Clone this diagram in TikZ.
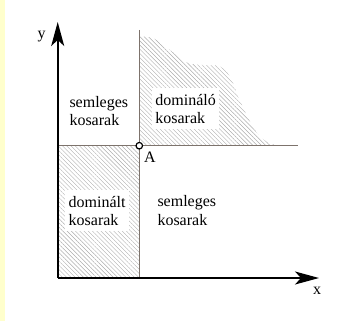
\documentclass[tikz,border=0pt]{standalone}
\usepackage{fontspec}
\setmainfont{Liberation Serif}
\usetikzlibrary{positioning,arrows.meta,patterns.meta}
\definecolor{stripyellow}{RGB}{255,255,204}
\definecolor{divgray}{RGB}{125,115,108}
\tikzset{
  axis/.style={-{Stealth[length=24pt, width=13pt, inset=6pt]}, line width=1.6pt},
  divline/.style={draw=divgray, line width=1.3pt},
  hatch/.style={pattern={Lines[angle=-45, distance=3pt, line width=0.4pt]}, pattern color=gray!65},
  regiontext/.style={font=\fontsize{16}{18.3}\selectfont, align=left, inner sep=0pt, anchor=west},
  whitebox/.style={font=\fontsize{16}{18.3}\selectfont, align=left, fill=white, inner xsep=3.5pt, minimum height=41pt, anchor=north west},
  dot/.style={circle, draw, fill=white, inner sep=0pt, minimum size=6.5pt, line width=1.2pt},
  axlabel/.style={font=\fontsize{16}{18.3}\selectfont, inner sep=0pt}
}

\begin{document}
\begin{tikzpicture}[x=1pt, y=-1pt]
  \useasboundingbox (0,0) rectangle (363,321);
  \fill[stripyellow] (0,0) rectangle (5,321);

  % corner points
  \coordinate (O) at (57.7,278);
  \coordinate (ytip) at (57.7,22);
  \coordinate (xtip) at (319,278);
  \coordinate (Atop) at (139.3,30);
  \coordinate (Abot) at (139.3,278);
  \coordinate (Aleft) at (57.7,145.7);
  \coordinate (Aright) at (297.7,145.7);

  % hatched regions
  \fill[hatch] (Aleft) rectangle (Abot);
  \fill[hatch] (139.3,145.7)
    -- plot[smooth, tension=0.6] coordinates {(139.3,36.7) (153.3,38.3) (170,50) (186.7,62.5) (203,65) (220,66.5) (230,76.7) (237,93.3) (246,114) (257,133) (268,142.5) (279,145.7)}
    -- cycle;

  % dividing lines
  \draw[divline] (Atop) -- (Abot);
  \draw[divline] (Aleft) -- (Aright);

  % axes
  \draw[axis] (O) -- (ytip);
  \draw[axis] (O) -- (xtip);
  \node[axlabel] (ylab) at (41.7,36.7) {y};
  \node[axlabel] (xlab) at (317,291) {x};

  % region texts
  \node[regiontext] (neutral1) at (69.3,111) {semleges\\kosarak};
  \node[whitebox] (dominating) at (151.7,88) {domináló\\kosarak};
  \node[whitebox] (dominated) at (65,190) {dominált\\kosarak};
  \node[regiontext] (neutral2) at (157.3,210.5) {semleges\\kosarak};

  % point A
  \node[dot] (A) at (139.3,145.7) {};
  \node[axlabel] (Alab) at (150,157) {A};
\end{tikzpicture}
\end{document}
